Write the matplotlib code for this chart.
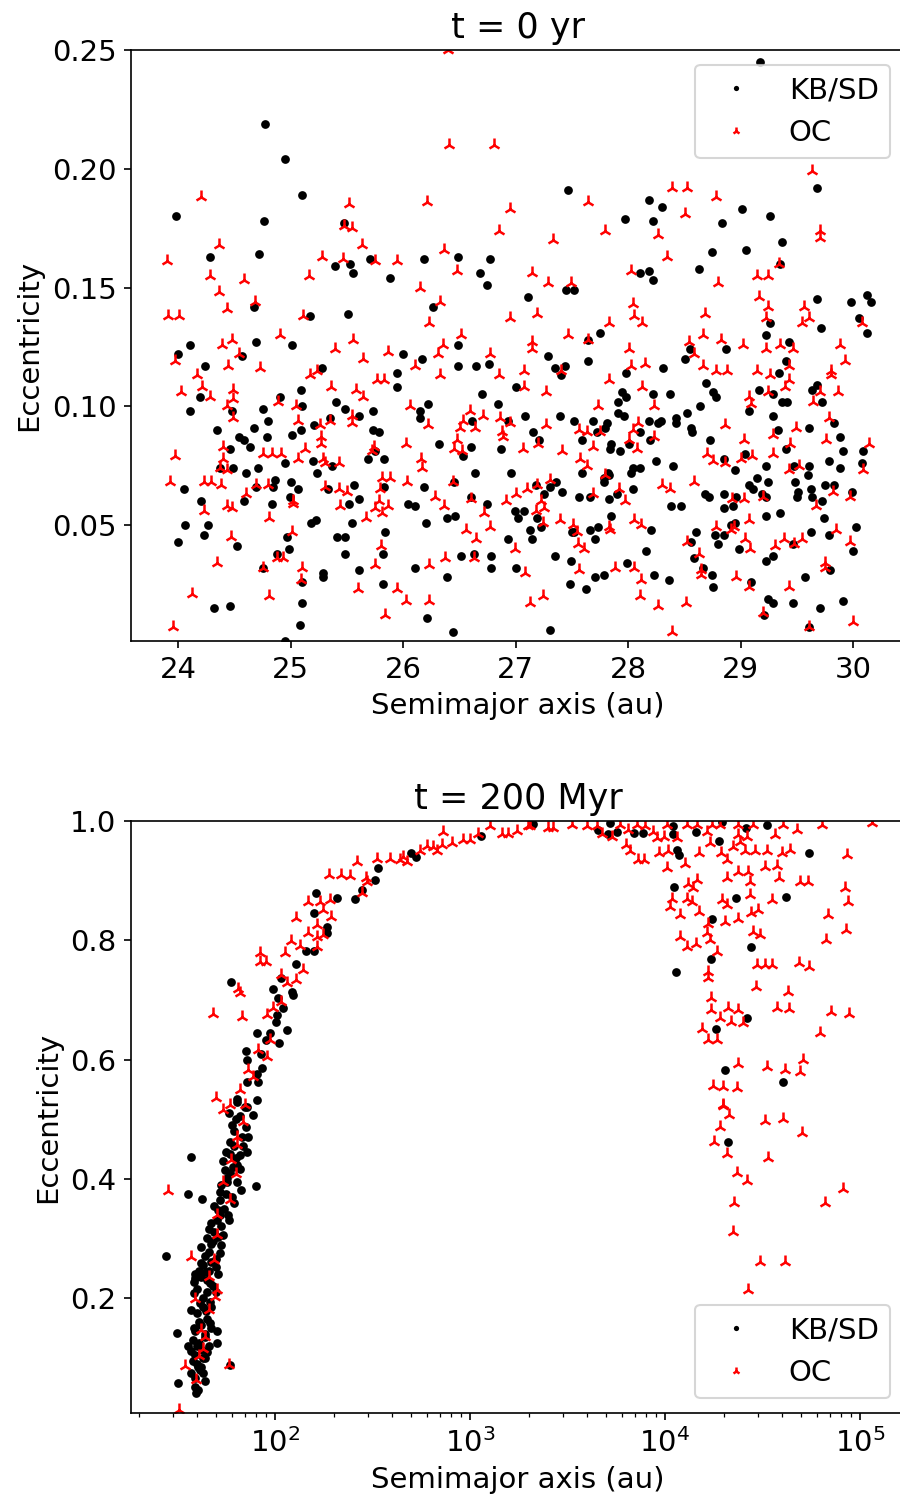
import numpy as np
import matplotlib
matplotlib.use('Agg')
import matplotlib.pyplot as plt

plt.rcParams['font.size'] = 14

# t = 0 yr : (semimajor axis [au], eccentricity)
kb_t0 = np.array([
    (24.77, 0.219), (24.95, 0.204), (25.10, 0.189), (23.98, 0.180), (24.76, 0.178), (24.28, 0.163),
    (24.72, 0.164), (25.47, 0.177), (25.39, 0.159), (25.53, 0.160), (25.55, 0.156), (25.70, 0.162),
    (25.88, 0.154), (26.18, 0.162), (26.49, 0.163), (26.77, 0.162), (26.68, 0.156), (26.74, 0.151),
    (26.26, 0.142), (24.67, 0.142), (25.17, 0.138), (25.51, 0.139),
    (29.17, 0.245), (27.46, 0.191), (29.68, 0.192), (28.18, 0.187), (28.30, 0.184), (27.97, 0.179),
    (28.22, 0.178), (29.01, 0.183), (29.26, 0.180), (28.83, 0.177), (29.37, 0.169), (28.74, 0.165),
    (29.05, 0.166), (28.63, 0.158), (29.35, 0.160), (28.10, 0.156), (28.18, 0.157), (28.22, 0.153),
    (27.45, 0.149), (27.52, 0.149), (27.11, 0.146), (29.68, 0.145), (29.98, 0.144), (30.12, 0.147),
    (30.16, 0.144), (30.05, 0.137), (29.26, 0.135), (29.71, 0.133), (30.12, 0.131), (27.75, 0.131),
    (29.22, 0.130),
    (24.10, 0.126), (24.00, 0.122), (24.69, 0.127), (25.01, 0.126), (24.57, 0.121), (24.24, 0.117),
    (24.19, 0.104), (24.10, 0.098), (24.48, 0.098), (24.90, 0.104), (25.09, 0.107), (25.10, 0.100),
    (24.75, 0.099), (24.80, 0.094), (24.34, 0.090), (24.67, 0.091), (24.79, 0.087), (24.54, 0.087),
    (24.58, 0.086), (24.64, 0.083), (24.46, 0.082), (25.01, 0.088), (25.09, 0.090), (25.21, 0.092),
    (25.28, 0.116), (25.40, 0.102), (25.48, 0.099), (25.61, 0.096), (25.73, 0.098), (25.35, 0.095),
    (25.73, 0.090), (25.78, 0.089), (25.75, 0.081), (25.69, 0.078), (25.83, 0.078), (25.94, 0.114),
    (25.94, 0.108), (26.00, 0.122), (26.17, 0.120), (26.49, 0.126), (26.49, 0.117), (26.65, 0.117),
    (26.76, 0.118), (26.70, 0.105), (26.84, 0.101), (27.00, 0.108), (26.22, 0.101), (26.15, 0.098),
    (26.15, 0.095), (26.32, 0.084), (26.60, 0.083), (26.61, 0.094), (26.53, 0.079), (26.93, 0.094),
    (26.87, 0.082), (26.64, 0.072), (26.96, 0.072), (24.95, 0.076), (24.71, 0.074), (24.60, 0.072),
    (24.49, 0.074), (24.37, 0.074), (25.20, 0.077), (25.23, 0.072), (25.37, 0.075), (24.86, 0.069),
    (24.84, 0.066), (25.00, 0.068), (25.06, 0.065), (24.05, 0.065), (24.69, 0.066), (24.99, 0.062),
    (24.58, 0.060), (24.83, 0.059), (24.20, 0.060), (25.33, 0.065), (25.56, 0.067), (25.52, 0.059),
    (25.61, 0.061), (25.83, 0.066), (26.18, 0.066), (26.04, 0.059), (26.10, 0.058), (26.45, 0.068),
    (26.60, 0.062), (26.74, 0.059), (26.99, 0.056), (27.02, 0.053), (24.06, 0.050), (24.26, 0.050),
    (24.23, 0.046), (24.00, 0.043), (24.52, 0.041), (25.18, 0.051), (25.22, 0.052), (25.54, 0.051),
    (25.41, 0.045), (25.48, 0.045), (25.84, 0.047), (24.97, 0.045), (24.98, 0.040), (24.88, 0.038),
    (25.48, 0.038), (25.82, 0.038), (24.75, 0.032), (25.29, 0.030), (25.29, 0.028), (25.61, 0.031),
    (25.10, 0.026), (25.82, 0.025), (26.10, 0.032), (26.39, 0.028), (26.20, 0.051), (26.39, 0.053),
    (26.46, 0.054), (26.93, 0.044), (26.51, 0.037), (26.63, 0.038), (26.78, 0.037), (26.78, 0.032),
    (27.00, 0.032), (24.32, 0.015), (24.46, 0.016), (25.10, 0.017), (25.08, 0.008), (26.21, 0.011),
    (26.44, 0.005), (24.95, 0.0012),
    (27.64, 0.128), (29.43, 0.127), (28.87, 0.124), (28.55, 0.124), (28.50, 0.120), (27.29, 0.121),
    (27.35, 0.116), (27.44, 0.117), (27.40, 0.113), (27.64, 0.119), (27.98, 0.114), (28.31, 0.116),
    (29.40, 0.119), (29.34, 0.114), (28.69, 0.110), (28.75, 0.106), (28.78, 0.104), (29.16, 0.107),
    (29.29, 0.105), (29.37, 0.102), (29.41, 0.102), (29.63, 0.107), (29.68, 0.109), (29.72, 0.102),
    (27.94, 0.106), (27.98, 0.104), (28.22, 0.105), (28.37, 0.105), (27.91, 0.102), (28.64, 0.100),
    (29.07, 0.098), (27.08, 0.096), (27.39, 0.096), (27.91, 0.097), (27.96, 0.096), (27.52, 0.094),
    (27.69, 0.094), (27.81, 0.093), (27.79, 0.091), (28.18, 0.094), (28.26, 0.093), (28.29, 0.094),
    (28.42, 0.095), (28.42, 0.093), (28.52, 0.097), (28.56, 0.091), (28.57, 0.089), (29.29, 0.096),
    (29.33, 0.090), (29.61, 0.091), (29.83, 0.093), (29.88, 0.087), (27.15, 0.089), (27.21, 0.086),
    (27.59, 0.086), (27.72, 0.089), (28.10, 0.089), (28.19, 0.086), (27.85, 0.084), (27.84, 0.082),
    (27.93, 0.081), (28.01, 0.084), (28.73, 0.086), (29.04, 0.080), (28.85, 0.078), (29.40, 0.082),
    (29.91, 0.081), (30.09, 0.081), (30.08, 0.076), (29.78, 0.077), (29.88, 0.074), (29.61, 0.075),
    (29.47, 0.075), (29.60, 0.071), (29.48, 0.068), (29.22, 0.075), (29.14, 0.070), (29.24, 0.068),
    (28.95, 0.073), (29.07, 0.067), (29.11, 0.065), (29.19, 0.063), (29.22, 0.062), (29.62, 0.065),
    (29.63, 0.062), (29.51, 0.064), (29.50, 0.062), (29.75, 0.067), (29.83, 0.067), (29.72, 0.060),
    (29.99, 0.064), (28.25, 0.077), (28.40, 0.075), (28.02, 0.072), (28.04, 0.074), (28.10, 0.074),
    (27.82, 0.072), (27.78, 0.068), (27.78, 0.070), (27.83, 0.071), (27.59, 0.072), (27.36, 0.068),
    (27.30, 0.066), (27.25, 0.063), (27.18, 0.067), (27.41, 0.064), (27.56, 0.062), (27.66, 0.062),
    (27.83, 0.061), (27.90, 0.063), (28.04, 0.065), (28.68, 0.063), (28.72, 0.062), (28.85, 0.063),
    (28.96, 0.062), (28.93, 0.058), (28.85, 0.057), (28.38, 0.058), (28.47, 0.058), (27.07, 0.056),
    (27.19, 0.053), (27.13, 0.048), (27.22, 0.049), (27.14, 0.044), (27.50, 0.047), (27.52, 0.047),
    (27.66, 0.048), (27.73, 0.049), (27.70, 0.044), (27.85, 0.054), (28.20, 0.048), (28.16, 0.039),
    (27.35, 0.037), (27.49, 0.035), (27.70, 0.028), (27.78, 0.029), (27.48, 0.025), (27.62, 0.023),
    (27.99, 0.034), (28.23, 0.029), (28.36, 0.027), (28.60, 0.047), (28.56, 0.043), (28.58, 0.036),
    (28.66, 0.032), (28.74, 0.029), (28.75, 0.024), (28.77, 0.046), (28.85, 0.046), (28.80, 0.042),
    (28.91, 0.050), (28.95, 0.051), (28.98, 0.040), (29.22, 0.054), (29.35, 0.055), (29.22, 0.035),
    (29.29, 0.037), (29.46, 0.042), (29.62, 0.047), (29.78, 0.046), (29.74, 0.053), (30.02, 0.049),
    (30.00, 0.039), (29.79, 0.031), (29.57, 0.028), (29.09, 0.026), (29.24, 0.019), (29.29, 0.017),
    (29.46, 0.017), (29.70, 0.015), (29.91, 0.018), (29.21, 0.012), (29.61, 0.007), (27.30, 0.006),
])

oc_t0 = np.array([
    (26.40, 0.250), (26.41, 0.210), (26.81, 0.210), (24.20, 0.188), (25.52, 0.185), (26.21, 0.186),
    (26.95, 0.183), (25.47, 0.176), (25.54, 0.175), (26.85, 0.174), (24.36, 0.168), (25.63, 0.168),
    (26.36, 0.166), (23.90, 0.161), (25.28, 0.163), (25.46, 0.162), (25.75, 0.161), (25.94, 0.161),
    (26.48, 0.157), (24.28, 0.155), (24.58, 0.153), (25.16, 0.155), (24.36, 0.148), (26.15, 0.150),
    (24.43, 0.141), (24.68, 0.144), (26.33, 0.144), (23.91, 0.138), (24.01, 0.138), (25.11, 0.138),
    (26.23, 0.135), (26.95, 0.137),
    (29.63, 0.199), (28.39, 0.192), (28.52, 0.192), (27.64, 0.186), (28.78, 0.188), (28.50, 0.181),
    (27.79, 0.174), (28.26, 0.172), (29.70, 0.174), (29.70, 0.171), (27.33, 0.170), (28.34, 0.163),
    (27.14, 0.156), (27.29, 0.152), (27.49, 0.152), (28.02, 0.157), (28.80, 0.152), (29.14, 0.155),
    (29.24, 0.155), (29.34, 0.160), (29.16, 0.146), (29.24, 0.142), (29.56, 0.142), (27.19, 0.139),
    (28.04, 0.143), (28.05, 0.138), (28.12, 0.135), (28.68, 0.139), (29.22, 0.137), (29.54, 0.135),
    (29.61, 0.137), (30.08, 0.135), (27.83, 0.135),
    (23.97, 0.119), (24.39, 0.126), (24.48, 0.128), (24.54, 0.122), (24.90, 0.130), (24.44, 0.117),
    (24.73, 0.116), (24.17, 0.113), (24.02, 0.106), (24.21, 0.108), (24.28, 0.104), (24.49, 0.107),
    (24.49, 0.103), (24.43, 0.100), (24.49, 0.095), (24.89, 0.102), (25.05, 0.100), (25.06, 0.094),
    (25.17, 0.113), (25.23, 0.115), (25.39, 0.124), (25.55, 0.128), (25.64, 0.120), (25.86, 0.123),
    (26.10, 0.117), (26.31, 0.122), (26.35, 0.126), (26.51, 0.130), (26.33, 0.113), (26.77, 0.122),
    (26.85, 0.113), (25.77, 0.111), (25.83, 0.111), (25.36, 0.108), (25.58, 0.107), (25.64, 0.104),
    (25.54, 0.096), (25.54, 0.093), (26.06, 0.100), (26.22, 0.092), (26.59, 0.098), (26.71, 0.096),
    (26.53, 0.094), (26.50, 0.091), (26.64, 0.091), (26.86, 0.095), (26.95, 0.093), (26.88, 0.089),
    (26.89, 0.087), (26.48, 0.086), (26.45, 0.082), (26.52, 0.081), (25.26, 0.092), (25.27, 0.087),
    (25.27, 0.084), (25.35, 0.094), (25.13, 0.082), (25.74, 0.083), (25.72, 0.081), (26.02, 0.084),
    (24.40, 0.083), (23.97, 0.079), (24.40, 0.078), (24.75, 0.080), (24.83, 0.080), (24.91, 0.080),
    (25.06, 0.078), (25.29, 0.078), (25.30, 0.076), (25.43, 0.076), (26.16, 0.078), (26.17, 0.074),
    (24.37, 0.074), (24.43, 0.073), (23.93, 0.068), (24.23, 0.068), (24.29, 0.068), (24.38, 0.067),
    (24.69, 0.067), (24.80, 0.067), (24.60, 0.063), (25.02, 0.060), (25.02, 0.059), (25.30, 0.066),
    (25.43, 0.065), (25.50, 0.064), (25.81, 0.070), (25.88, 0.070), (25.79, 0.065), (25.78, 0.060),
    (25.86, 0.058), (25.75, 0.057), (25.81, 0.055), (25.67, 0.053), (25.44, 0.058), (26.03, 0.068),
    (26.28, 0.062), (26.36, 0.058), (26.44, 0.068), (26.60, 0.061), (26.91, 0.060), (27.00, 0.063),
    (26.72, 0.055), (26.77, 0.049), (26.56, 0.048), (26.65, 0.044), (26.99, 0.040), (26.63, 0.036),
    (24.23, 0.056), (24.43, 0.058), (24.48, 0.057), (24.81, 0.053), (24.47, 0.045), (25.01, 0.047),
    (24.34, 0.034), (24.75, 0.032), (24.88, 0.036), (24.93, 0.036), (25.10, 0.032), (25.09, 0.027),
    (25.80, 0.041), (25.75, 0.033), (26.23, 0.033), (26.37, 0.036), (25.60, 0.023), (25.94, 0.023),
    (26.02, 0.018), (26.23, 0.018), (24.12, 0.021), (24.81, 0.020), (25.84, 0.012), (23.95, 0.007),
    (27.14, 0.127), (27.14, 0.124), (27.46, 0.130), (27.64, 0.128), (27.07, 0.115), (27.07, 0.108),
    (27.27, 0.106), (27.40, 0.115), (27.83, 0.111), (28.01, 0.124), (28.02, 0.117), (28.15, 0.118),
    (28.12, 0.108), (28.23, 0.100), (28.54, 0.127), (28.58, 0.122), (28.66, 0.130), (28.82, 0.128),
    (28.66, 0.117), (28.78, 0.115), (28.88, 0.115), (29.02, 0.126), (29.22, 0.124), (29.35, 0.126),
    (29.46, 0.124), (29.14, 0.115), (29.26, 0.113), (29.43, 0.117), (29.43, 0.111), (29.39, 0.108),
    (29.24, 0.106), (29.88, 0.126), (29.93, 0.119), (29.80, 0.115), (29.80, 0.113), (29.86, 0.106),
    (29.70, 0.106), (29.64, 0.102), (29.07, 0.104), (29.09, 0.101), (27.73, 0.100), (27.27, 0.092),
    (27.56, 0.090), (27.63, 0.089), (27.75, 0.089), (27.69, 0.083), (27.41, 0.081), (27.20, 0.084),
    (27.06, 0.082), (28.01, 0.086), (28.04, 0.090), (28.09, 0.093), (28.08, 0.082), (28.23, 0.087),
    (28.86, 0.092), (29.03, 0.086), (28.70, 0.080), (28.75, 0.077), (28.86, 0.076), (29.00, 0.078),
    (29.10, 0.079), (29.29, 0.080), (29.44, 0.084), (29.49, 0.091), (29.29, 0.088), (29.78, 0.095),
    (29.76, 0.086), (30.14, 0.084), (30.09, 0.073), (29.43, 0.073), (29.52, 0.075), (29.82, 0.064),
    (29.97, 0.062), (29.67, 0.058), (29.20, 0.062), (29.03, 0.061), (28.92, 0.061), (29.07, 0.052),
    (28.91, 0.048), (28.94, 0.049), (28.78, 0.049), (28.58, 0.068), (28.30, 0.067), (28.37, 0.065),
    (27.97, 0.060), (27.92, 0.065), (27.69, 0.063), (27.79, 0.071), (27.57, 0.078), (27.63, 0.075),
    (27.30, 0.069), (27.19, 0.067), (27.10, 0.065), (27.22, 0.060), (27.25, 0.057), (27.18, 0.056),
    (27.24, 0.051), (27.39, 0.052), (27.51, 0.050), (27.54, 0.047), (27.55, 0.042), (27.61, 0.040),
    (27.83, 0.049), (27.84, 0.048), (28.05, 0.052), (28.11, 0.050), (27.08, 0.030), (27.56, 0.031),
    (27.88, 0.032), (28.05, 0.032), (28.11, 0.027), (28.10, 0.020), (28.26, 0.016), (27.13, 0.017),
    (27.24, 0.020), (28.51, 0.017), (28.39, 0.005), (28.52, 0.043), (28.63, 0.038), (28.65, 0.031),
    (28.65, 0.029), (28.96, 0.028), (29.07, 0.024), (29.04, 0.044), (29.08, 0.040), (29.30, 0.041),
    (29.38, 0.044), (29.54, 0.044), (29.47, 0.042), (29.85, 0.048), (29.97, 0.043), (29.75, 0.034),
    (29.75, 0.032), (29.43, 0.024), (29.20, 0.013), (29.61, 0.007), (30.00, 0.009),
])

# t = 200 Myr : (semimajor axis [au], eccentricity)
kb_t200 = np.array([
    (1139, 0.975), (498, 0.946), (527, 0.939), (339, 0.921), (326, 0.901), (278, 0.884),
    (256, 0.869), (162, 0.880), (209, 0.871), (159, 0.846), (184, 0.823), (184, 0.813),
    (145, 0.782), (159, 0.782), (128, 0.760), (108, 0.737), (59.4, 0.730), (97.3, 0.719),
    (123, 0.714), (124, 0.709), (104, 0.703), (110, 0.686), (102, 0.675), (101, 0.663),
    (115, 0.649), (80.5, 0.645), (94.3, 0.644), (89.9, 0.633), (105, 0.627), (71, 0.615),
    (84.8, 0.610), (71.6, 0.600), (85.5, 0.585), (81.2, 0.576), (71.6, 0.563), (81.5, 0.563),
    (64.1, 0.533), (71.6, 0.521), (80.5, 0.532),
    (63.6, 0.529), (77.4, 0.507), (63, 0.501), (71, 0.487), (72.9, 0.470), (58.8, 0.462),
    (71.6, 0.445), (58.8, 0.442), (37.1, 0.436), (64.1, 0.423), (55.4, 0.414), (66.2, 0.417),
    (56.5, 0.402), (79.9, 0.388), (67, 0.381), (52.3, 0.378), (35.9, 0.374), (42.1, 0.366),
    (52.3, 0.364), (51.2, 0.347), (57.6, 0.339), (50.6, 0.331), (46, 0.315), (51.2, 0.303),
    (52.8, 0.289), (41.6, 0.286), (45.9, 0.277), (27.8, 0.271), (41.6, 0.259), (49.8, 0.252),
    (51.2, 0.240), (44.3, 0.244), (38.9, 0.233), (38.6, 0.226), (46.4, 0.225), (38.6, 0.209),
    (44.6, 0.210), (41.2, 0.191), (46.4, 0.194), (44.3, 0.178), (38.4, 0.149), (46.4, 0.158),
    (50.6, 0.145), (31.6, 0.141), (38.1, 0.130), (43.8, 0.134), (50.6, 0.124), (37.1, 0.111),
    (42.1, 0.112), (42.6, 0.099), (40.4, 0.084), (41.2, 0.080), (58.8, 0.087), (31.7, 0.057),
    (38.9, 0.051), (40.4, 0.045), (39.6, 0.040),
    (60, 0.49), (68, 0.47), (62, 0.455), (66, 0.44), (54, 0.43), (61, 0.42), (57, 0.395),
    (53, 0.39), (60, 0.37), (49, 0.355), (55, 0.35), (47, 0.325), (53, 0.32), (49, 0.31),
    (45, 0.30), (48, 0.295), (44, 0.27), (50, 0.265), (43, 0.255), (46, 0.245), (42, 0.235),
    (48, 0.22), (40, 0.215), (43, 0.20), (47, 0.185), (40, 0.175), (45, 0.165), (42, 0.155),
    (39, 0.145), (44, 0.14), (41, 0.125), (46, 0.12), (39, 0.105), (44, 0.10), (40, 0.09),
    (43, 0.075), (39, 0.065),
    (58, 0.51), (66, 0.505), (70, 0.52), (62, 0.48), (56, 0.445), (69, 0.455), (63, 0.435),
    (59, 0.41), (64, 0.395), (56, 0.375), (62, 0.36), (52, 0.34), (58, 0.33), (54, 0.305),
    (47, 0.29), (52, 0.275), (47, 0.26), (41, 0.245), (45, 0.23), (50, 0.21), (43, 0.185),
    (41, 0.16), (47, 0.15), (40, 0.12), (45, 0.11), (38, 0.095), (42, 0.085), (44, 0.06),
    (37, 0.075), (36, 0.12), (37, 0.18), (39, 0.24),
    (2097, 0.995), (5224, 0.996), (5654, 0.982), (5122, 0.979), (4550, 0.985), (6934, 0.980),
    (7745, 0.980), (11030, 0.991), (11030, 0.979), (14420, 0.982), (19500, 0.999), (25920, 0.988),
    (33220, 0.993), (18920, 0.967), (11480, 0.951), (11840, 0.943), (54950, 0.947), (11120, 0.890),
    (23120, 0.871), (41740, 0.872), (17330, 0.836), (27610, 0.789), (17220, 0.768), (11350, 0.747),
    (26180, 0.670), (18260, 0.652), (20300, 0.583), (40440, 0.562), (20960, 0.462),
])

oc_t200 = np.array([
    (729, 0.982), (1267, 0.991), (1453, 0.979), (1573, 0.978), (1749, 0.984), (1991, 0.991),
    (925, 0.968), (1000, 0.968), (1104, 0.978), (805, 0.963), (716, 0.960), (648, 0.957),
    (600, 0.958), (675, 0.949), (554, 0.949), (455, 0.940), (437, 0.935), (474, 0.932),
    (389, 0.937), (332, 0.937), (262, 0.932), (190, 0.909), (217, 0.909), (244, 0.907),
    (293, 0.904), (278, 0.879), (295, 0.898), (148, 0.865), (171, 0.865), (191, 0.867),
    (176, 0.851), (128, 0.837), (195, 0.839), (164, 0.826), (148, 0.812), (164, 0.806),
    (177, 0.809), (121, 0.798), (134, 0.790), (112, 0.779), (164, 0.789), (83.8, 0.778),
    (83.8, 0.764), (89.9, 0.764), (140, 0.750), (107, 0.741), (128, 0.733), (115, 0.728),
    (64.9, 0.719), (66.2, 0.711), (108, 0.697), (47.9, 0.676), (67.9, 0.672), (91.3, 0.675),
    (98, 0.686), (94.3, 0.633), (81.5, 0.616), (91.3, 0.605), (72.9, 0.583), (77.4, 0.571),
    (66.2, 0.549), (49.8, 0.535), (58.8, 0.524), (70.2, 0.524),
    (53.9, 0.516), (68.8, 0.496), (64.1, 0.470), (64.1, 0.456), (59.9, 0.431), (63, 0.408),
    (53.9, 0.395), (58.8, 0.364), (28.4, 0.380), (50.6, 0.339), (50.6, 0.305), (37.1, 0.268),
    (48.9, 0.263), (46, 0.235), (50.6, 0.213), (38.9, 0.199), (49.2, 0.201), (46, 0.180),
    (41.6, 0.146), (43.8, 0.134), (42.6, 0.115), (40.9, 0.102), (34.6, 0.086), (58.4, 0.087),
    (39.4, 0.062), (32.3, 0.012),
    (2031, 0.992), (2521, 0.988), (2675, 0.988), (3321, 0.993), (3965, 0.992), (4464, 0.992),
    (4732, 0.978), (5327, 0.973), (5875, 0.993), (6486, 0.985), (7160, 0.993), (7895, 0.992),
    (8710, 0.982), (9060, 0.971), (9910, 0.974), (10200, 0.993), (11480, 0.971), (12910, 0.993),
    (14540, 0.993), (16360, 0.982), (17330, 0.993), (19140, 0.993), (23770, 0.993), (23770, 0.977),
    (26180, 0.974), (28380, 0.993), (36790, 0.977), (40440, 0.993), (47330, 0.985), (63610, 0.993),
    (114700, 0.996), (6310, 0.960), (6613, 0.949), (7290, 0.935), (7800, 0.935), (10200, 0.922),
    (9350, 0.946), (10400, 0.949), (12660, 0.928), (14930, 0.947), (17010, 0.963), (19370, 0.946),
    (20710, 0.935), (22390, 0.957), (24240, 0.965), (25700, 0.949), (28940, 0.949), (33220, 0.949),
    (32570, 0.923), (37680, 0.925), (39640, 0.946), (43750, 0.951), (38550, 0.904), (85430, 0.943),
    (20710, 0.904), (23770, 0.915), (26760, 0.915), (27290, 0.898), (14540, 0.901), (13170, 0.895),
    (13970, 0.887), (49250, 0.898), (54330, 0.898), (83750, 0.887), (87100, 0.865), (10820, 0.870),
    (10610, 0.856), (12910, 0.870), (13700, 0.865), (11940, 0.842), (14990, 0.848), (19500, 0.867),
    (20710, 0.859), (27290, 0.876), (35200, 0.867), (27610, 0.845), (30100, 0.851), (20300, 0.831),
    (23770, 0.835), (68800, 0.842), (84750, 0.817), (66950, 0.800), (28380, 0.814), (30680, 0.809),
    (16360, 0.812), (17010, 0.800), (11940, 0.805), (12910, 0.789), (14420, 0.794), (18410, 0.781),
    (29510, 0.758), (32570, 0.758), (35200, 0.758), (48840, 0.762), (54950, 0.756), (16680, 0.746),
    (16680, 0.736), (29290, 0.722), (42910, 0.714), (17220, 0.703), (17220, 0.683), (21130, 0.687),
    (23770, 0.683), (19140, 0.669), (21810, 0.663), (25000, 0.662), (15430, 0.652), (16680, 0.633),
    (18410, 0.633), (37370, 0.687), (43360, 0.685), (70980, 0.680), (88110, 0.677), (62370, 0.644),
    (23770, 0.593), (33220, 0.587), (41220, 0.582), (49250, 0.579), (51170, 0.600), (17560, 0.555),
    (19910, 0.554), (23320, 0.553), (19910, 0.524), (16680, 0.828),
    (19910, 0.522), (21390, 0.507), (19140, 0.487), (17910, 0.462), (20710, 0.442), (32570, 0.497),
    (40440, 0.501), (50620, 0.476), (33610, 0.434), (23320, 0.409), (26180, 0.396), (22660, 0.360),
    (22220, 0.311), (30680, 0.261), (41220, 0.260), (26760, 0.213), (66150, 0.360), (82130, 0.382),
])

XLABEL = 'Semimajor axis (au)'
YLABEL = 'Eccentricity'


def draw_panel(ax, kb, oc, title, legend_loc):
    '''black dots for KB/SD objects, red tri markers for OC objects'''
    ax.plot(kb[:, 0], kb[:, 1], 'o', color='black', ms=4.2, mew=0, label='KB/SD')
    ax.plot(oc[:, 0], oc[:, 1], '2', color='red', ms=6.3, mew=1.2, label='OC')
    ax.set_xlabel(XLABEL)
    ax.set_ylabel(YLABEL)
    ax.set_title(title)
    ax.legend(loc=legend_loc, markerscale=0.6)


fig = plt.figure(figsize=(6, 9.987), dpi=150)

ax1 = fig.add_axes([0.1456, 0.5721, 0.86, 0.3945])
draw_panel(ax1, kb_t0, oc_t0, 't = 0 yr', 'upper right')
ax1.set_xlim(23.58, 30.46)
ax1.set_ylim(0.0012, 0.25)

ax2 = fig.add_axes([0.1456, 0.0567, 0.86, 0.3952])
ax2.set_xscale('log')
draw_panel(ax2, kb_t200, oc_t200, 't = 200 Myr', 'lower right')
ax2.set_xlim(18.3, 1.7e5)
ax2.set_ylim(0.007, 1.0)

fig.savefig('out.png', dpi=150)
